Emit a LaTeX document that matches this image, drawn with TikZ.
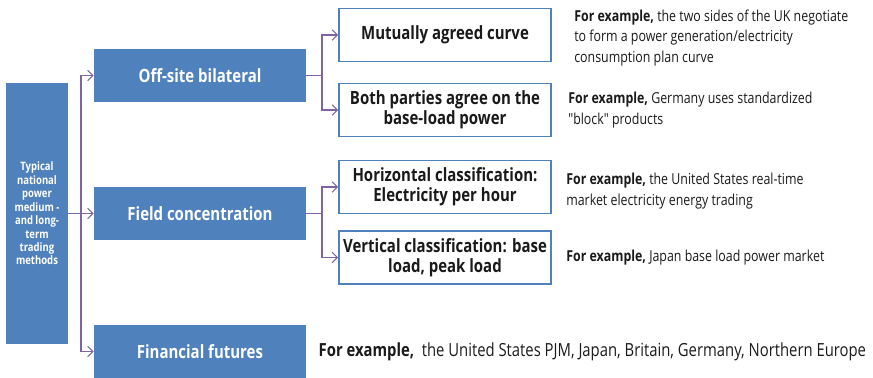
\documentclass[tikz,border=0pt]{standalone}
\usepackage{fontspec}
\setmainfont{Open Sans}[FakeStretch=0.82]
\newfontfamily\plainquote{Open Sans}[FakeStretch=0.82]
\usetikzlibrary{positioning}
\usetikzlibrary{arrows.meta}
\definecolor{boxblue}{RGB}{79,129,189}
\definecolor{linkpurple}{RGB}{128,100,162}
\definecolor{inkgray}{RGB}{26,26,26}
\tikzset{
  bluebox/.style={rectangle,fill=boxblue,text=white,font=\fontsize{10.4}{12}\selectfont\bfseries,minimum width=4.24cm,minimum height=1.06cm,inner sep=0pt},
  whitebox/.style={rectangle,draw=boxblue,line width=1.1pt,fill=white,text=inkgray,font=\fontsize{10.4}{11.5}\selectfont\bfseries,align=center,minimum width=4.24cm,minimum height=1.06cm,inner sep=0pt},
  note/.style={anchor=west,align=left,text=inkgray,font=\fontsize{8.6}{11.6}\selectfont,inner sep=0pt},
  link/.style={draw=linkpurple,line width=0.6pt,-{Straight Barb[length=3pt,width=6pt]}},
  trunk/.style={draw=linkpurple,line width=0.6pt},
}
\begin{document}
\begin{tikzpicture}[x=0.02cm,y=-0.02cm]
\useasboundingbox (0,0) rectangle (873,378);
\node[bluebox,minimum width=1.24cm,minimum height=5.22cm,align=center,font=\fontsize{6.6}{7.65}\selectfont\bfseries] (root) at (37,213.5) {Typical\\national\\power\\medium -\\and long-\\term\\trading\\methods};
\node[bluebox] (offsite) at (200,75.5) {Off-site bilateral};
\node[bluebox] (field) at (200,213.5) {Field concentration};
\node[bluebox] (futures) at (200,351.5) {Financial futures};

\node[whitebox] (mutual) at (445,35) {Mutually agreed curve};
\node[whitebox] (both) at (445,110) {Both parties agree on the\\base-load power};
\node[whitebox] (horiz) at (445,187) {Horizontal classification:\\Electricity per hour};
\node[whitebox] (vert) at (445,257.5) {Vertical classification: base\\load, peak load};

\node[note,right=0.44cm of mutual,yshift=-0.06cm] (mutualnote) {\textbf{For example,} the two sides of the UK negotiate\\to form a power generation/electricity\\consumption plan curve};
\node[note,right=0.32cm of both] (bothnote) {\textbf{For example,} Germany uses standardized\\{\plainquote"}block{\plainquote"} products};
\node[note,right=0.28cm of horiz,yshift=-0.08cm] (horiznote) {\textbf{For example,} the United States real-time\\market electricity energy trading};
\node[note,right=0.28cm of vert] (vertnote) {\textbf{For example,} Japan base load power market};
\node[note,right=0.24cm of futures,font=\fontsize{10.3}{12}\selectfont] (futuresnote) {\textbf{For example,}\ \ the United States PJM, Japan, Britain, Germany, Northern Europe};

\coordinate (stem) at (81,0);
\coordinate (fork) at (322,0);
\draw[link] (root.east) -- (field.west);
\draw[link] (stem |- root.east) |- (offsite.west);
\draw[link] (stem |- root.east) |- (futures.west);

\draw[trunk] (offsite.east) -- (fork |- offsite.east);
\draw[link] (fork |- offsite.east) |- (mutual.west);
\draw[link] (fork |- offsite.east) |- (both.west);
\draw[trunk] (field.east) -- (fork |- field.east);
\draw[link] (fork |- field.east) |- (horiz.west);
\draw[link] (fork |- field.east) |- (vert.west);

\end{tikzpicture}
\end{document}
